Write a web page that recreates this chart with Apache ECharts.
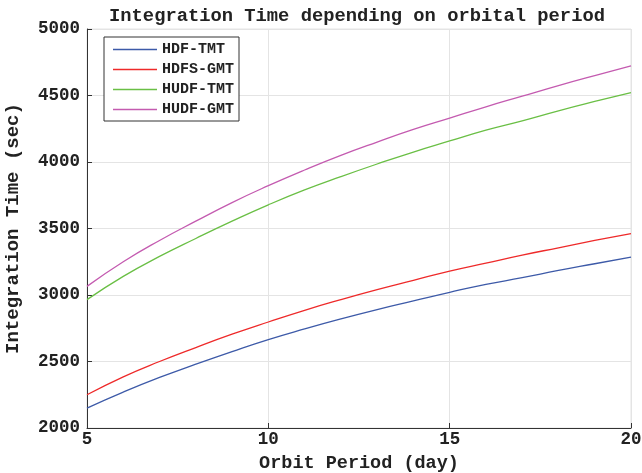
<!DOCTYPE html>
<html>
<head>
<meta charset="utf-8">
<script src="https://cdn.jsdelivr.net/npm/echarts@6/dist/echarts.min.js"></script>
<style>
  html, body { margin: 0; padding: 0; background: #fff; }
  #main { width: 642px; height: 473px; }
</style>
</head>
<body>
<div id="main"></div>
<script>
// orbit period (day)
var period = [5, 6, 7, 8, 9, 10, 11, 12, 13, 14, 15, 16, 17, 18, 19, 20];
// integration time (sec)
var hdfTmt  = [2150, 2270, 2380, 2480, 2575, 2665, 2745, 2820, 2890, 2955, 3020, 3080, 3130, 3185, 3235, 3285];
var hdfsGmt = [2250, 2385, 2500, 2605, 2705, 2797, 2885, 2965, 3040, 3110, 3180, 3240, 3300, 3355, 3410, 3462];
var hudfTmt = [2965, 3140, 3290, 3425, 3555, 3678, 3790, 3890, 3985, 4075, 4158, 4240, 4310, 4385, 4455, 4522];
var hudfGmt = [3065, 3250, 3410, 3555, 3695, 3822, 3940, 4050, 4150, 4245, 4330, 4415, 4495, 4575, 4650, 4722];

var names = ['HDF-TMT', 'HDFS-GMT', 'HUDF-TMT', 'HUDF-GMT'];
var colors = ['#3d5aa8', '#ee2a2a', '#6abf45', '#c45bb0'];
var values = [hdfTmt, hdfsGmt, hudfTmt, hudfGmt];

var font = 'Liberation Mono';

function pairs(ys) {
  return period.map(function (x, i) { return [x, ys[i]]; });
}

var myChart = echarts.init(document.getElementById('main'));
myChart.setOption({
  animation: false,
  title: {
    text: 'Integration Time depending on orbital period',
    left: 352,
    textAlign: 'center',
    top: 2,
    textStyle: { fontFamily: font, fontWeight: 'bold', fontSize: 18.8, color: '#222' }
  },
  legend: {
    orient: 'vertical',
    left: 104,
    top: 37,
    data: names.map(function (n, i) {
      return { name: n, icon: 'rect', itemStyle: { color: colors[i] } };
    }),
    itemWidth: 44,
    itemHeight: 1.3,
    itemGap: 5,
    padding: [5, 5, 4, 9],
    borderColor: '#333',
    borderWidth: 1,
    borderRadius: 0,
    backgroundColor: '#fff',
    textStyle: { fontFamily: font, fontWeight: 'bold', fontSize: 15, lineHeight: 14, color: '#222' }
  },
  grid: {
    left: 87,
    right: 11,
    top: 29,
    bottom: 45,
    outerBoundsMode: 'none',
    show: true,
    borderColor: '#e4e4e4',
    borderWidth: 1
  },
  xAxis: {
    type: 'value',
    min: 5,
    max: 20,
    interval: 5,
    name: 'Orbit Period (day)',
    nameLocation: 'middle',
    nameGap: 24,
    nameTextStyle: { fontFamily: font, fontWeight: 'bold', fontSize: 18.5, color: '#222' },
    axisLine: { lineStyle: { color: '#333', width: 1 } },
    axisTick: { inside: true, length: 5, lineStyle: { color: '#333' } },
    axisLabel: { fontFamily: font, fontWeight: 'bold', fontSize: 17.5, color: '#222', margin: 3 },
    splitLine: { show: true, lineStyle: { color: '#e4e4e4' } }
  },
  yAxis: {
    type: 'value',
    min: 2000,
    max: 5000,
    interval: 500,
    name: 'Integration Time (sec)',
    nameLocation: 'middle',
    nameGap: 64,
    nameTextStyle: { fontFamily: font, fontWeight: 'bold', fontSize: 19, color: '#222' },
    axisLine: { show: true, lineStyle: { color: '#333', width: 1 } },
    axisTick: { show: true, inside: true, length: 5, lineStyle: { color: '#333' } },
    axisLabel: {
      fontFamily: font, fontWeight: 'bold', fontSize: 17.5, color: '#222', margin: 7,
      formatter: function (v) { return String(v); }
    },
    splitLine: { show: true, lineStyle: { color: '#e4e4e4' } }
  },
  series: names.map(function (n, i) {
    return {
      name: n,
      type: 'line',
      data: pairs(values[i]),
      smooth: true,
      symbol: 'none',
      color: colors[i],
      lineStyle: { color: colors[i], width: 1.3 }
    };
  })
});
</script>
</body>
</html>
